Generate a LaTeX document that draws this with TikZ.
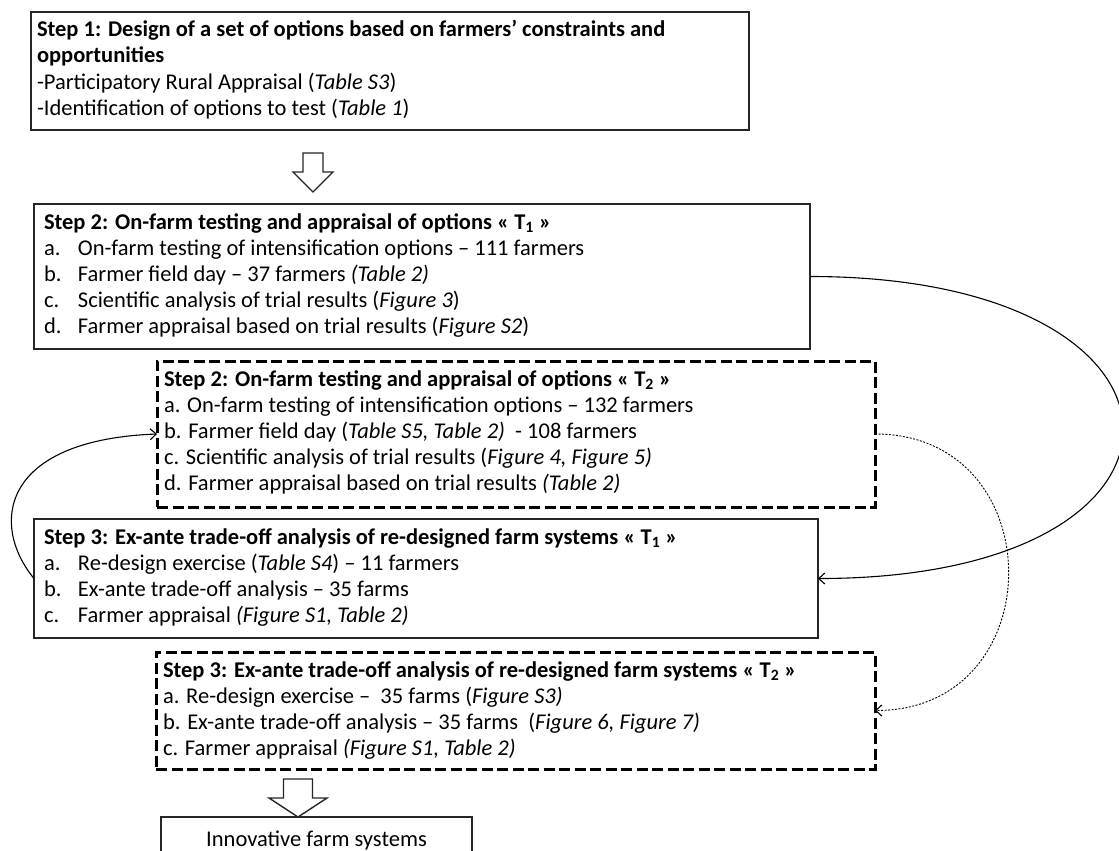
\documentclass[tikz,border=0pt]{standalone}
\usepackage{fontspec}
\setmainfont{Carlito}
\usetikzlibrary{arrows.meta}
\tikzset{
  solidbox/.style={draw=black!85, line width=1.7pt, rectangle, inner sep=0pt, outer sep=0pt, anchor=north west, fill=white},
  dashbox/.style={solidbox, draw=black, line width=3pt, dash pattern=on 11pt off 4.5pt},
  txt/.style={anchor=base west, inner sep=0pt, outer sep=0pt},
  ctxt/.style={anchor=base, inner sep=0pt, outer sep=0pt},
  conn/.style={line width=1.1pt, -{Straight Barb[length=6pt,width=11pt,line width=1.1pt]}},
  dotconn/.style={conn, line width=0.9pt, dash pattern=on 2pt off 1.5pt},
  blockarrow/.style={draw=black!85, line width=1.4pt, fill=white, line join=miter},
}
\newcommand\lbl[1]{\makebox[34pt][l]{#1}}
\begin{document}
\begin{tikzpicture}[x=1pt,y=-1pt,font=\fontsize{22.5pt}{26pt}\selectfont]
\useasboundingbox (0,0) rectangle (1119,851);
\clip (0,0) rectangle (1119,851);
\fill[white] (0,0) rectangle (1119,851);

% boxes
\node[solidbox, minimum width=718pt, minimum height=118pt] (b1) at (31,12) {};
\node[solidbox, minimum width=776pt, minimum height=145pt] (b2) at (34,204) {};
\node[dashbox, minimum width=718pt, minimum height=146pt] (t2) at (157,361) {};
\node[solidbox, minimum width=784pt, minimum height=119pt] (b3) at (34,519) {};
\node[dashbox, minimum width=719pt, minimum height=117pt] (s3) at (156,652) {};
\node[solidbox, minimum width=311pt, minimum height=60pt] (inn) at (161,817) {};

% box 1 text
\node[txt] (b1a) at (37,37) {\textbf{Step 1: Design of a set of options based on farmers’ constraints and}};
\node[txt] (b1b) at (37,63) {\textbf{opportunities}};
\node[txt] (b1c) at (37,89) {-Participatory Rural Appraisal (\textit{Table S3})};
\node[txt] (b1d) at (37,115) {-Identification of options to test (\textit{Table 1})};

% box 2 text
\node[txt] (b2a) at (44,229) {\textbf{Step 2: On-farm testing and appraisal of options « T\textsubscript{1} »}};
\node[txt] (b2b) at (44,255) {\lbl{a.}On-farm testing of intensification options – 111 farmers};
\node[txt] (b2c) at (44,281) {\lbl{b.}Farmer field day – 37 farmers \textit{(Table 2)}};
\node[txt] (b2d) at (44,307) {\lbl{c.}Scientific analysis of trial results (\textit{Figure 3})};
\node[txt] (b2e) at (44,333) {\lbl{d.}Farmer appraisal based on trial results (\textit{Figure S2})};

% dashed step 2 T2 text
\node[txt] (t2a) at (164,386) {\textbf{Step 2: On-farm testing and appraisal of options « T\textsubscript{2} »}};
\node[txt] (t2b) at (164,412) {a. On-farm testing of intensification options – 132 farmers};
\node[txt] (t2c) at (164,438) {b. Farmer field day (\textit{Table S5, Table 2)}\ \ - 108 farmers};
\node[txt] (t2d) at (164,464) {c. Scientific analysis of trial results (\textit{Figure 4, Figure 5)}};
\node[txt] (t2e) at (164,490) {d. Farmer appraisal based on trial results \textit{(Table 2)}};

% box 3 text
\node[txt] (b3a) at (44,544) {\textbf{Step 3: Ex-ante trade-off analysis of re-designed farm systems « T\textsubscript{1} »}};
\node[txt] (b3b) at (44,570) {\lbl{a.}Re-design exercise (\textit{Table S4}) – 11 farmers};
\node[txt] (b3c) at (44,596) {\lbl{b.}Ex-ante trade-off analysis – 35 farms};
\node[txt] (b3d) at (44,622) {\lbl{c.}Farmer appraisal \textit{(Figure S1, Table 2)}};

% dashed step 3 T2 text
\node[txt] (s3a) at (163,677) {\textbf{Step 3: Ex-ante trade-off analysis of re-designed farm systems « T\textsubscript{2} »}};
\node[txt] (s3b) at (163,703) {a. Re-design exercise –\ \ 35 farms (\textit{Figure S3)}};
\node[txt] (s3c) at (163,729) {b. Ex-ante trade-off analysis – 35 farms\ \ (\textit{Figure 6, Figure 7)}};
\node[txt] (s3d) at (163,755) {c. Farmer appraisal \textit{(Figure S1, Table 2)}};

% innovative
\node[ctxt] (innt) at (316.5,846) {Innovative farm systems};

% block arrows
\draw[blockarrow] (303,153) -- (323,153) -- (323,172) -- (333,172) -- (313,192) -- (293,172) -- (303,172) -- cycle;
\draw[blockarrow] (283.5,779) -- (312.5,779) -- (312.5,798) -- (327,798) -- (298,817) -- (269,798) -- (283.5,798) -- cycle;

% connectors
\draw[conn] (b2.east) .. controls +(412,0) and +(412,0) .. (b3.east);
\draw[dotconn] (t2.east) .. controls +(178,0) and +(178,0) .. (s3.east);
\draw[conn] (b3.west) .. controls (-10,525) and (0,440) .. (t2.west);
\end{tikzpicture}
\end{document}
